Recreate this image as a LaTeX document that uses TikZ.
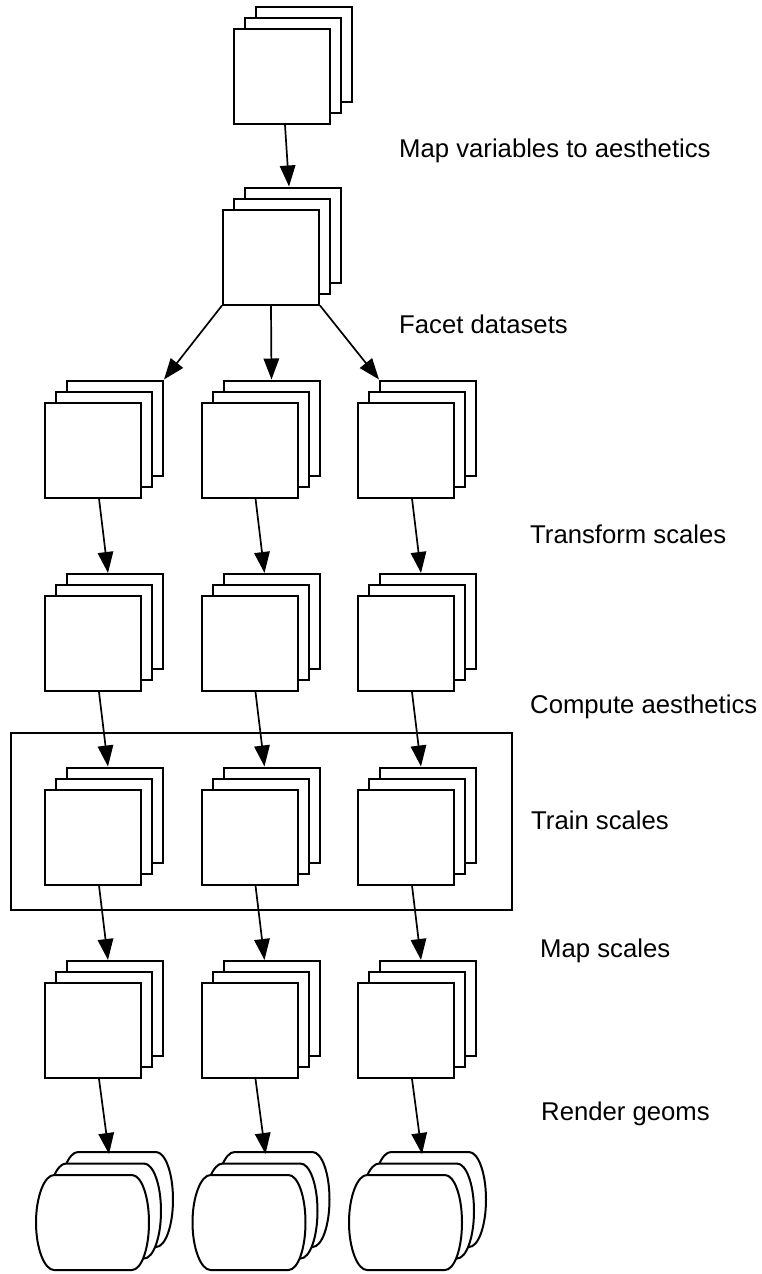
\documentclass[tikz,border=0pt]{standalone}
\usepackage{fontspec}
\setmainfont{Liberation Sans}
\usetikzlibrary{arrows.meta}
\tikzset{
  sq/.style={draw, fill=white, line width=2pt, minimum width=96pt, minimum height=95pt, inner sep=0pt},
  tapeline/.style={draw, fill=white, line width=2pt},
  arr/.style={line width=1.7pt, -{Triangle[length=21pt,width=15.5pt]}},
  frm/.style={draw, line width=1.7pt, minimum width=501pt, minimum height=177pt, inner sep=0pt},
  lbl/.style={inner sep=0pt, anchor=base west, font=\fontsize{25.7pt}{30pt}\selectfont},
  tape/.pic={
    \path[tapeline] (-39,-47.5) -- (39,-47.5)
      .. controls (48.4,-47.5) and (56,-26.23) .. (56,0)
      .. controls (56,26.23) and (48.4,47.5) .. (39,47.5)
      -- (-39,47.5)
      .. controls (-48.4,47.5) and (-57,26.23) .. (-57,0)
      .. controls (-57,-26.23) and (-48.4,-47.5) .. cycle;
    \coordinate (-top) at (0,-47.5);
  }
}
\begin{document}
\begin{tikzpicture}[x=1pt, y=-1pt]
\useasboundingbox (0,0) rectangle (762,1274);

% frame around "train scales" row
\node[frm] (frame) at (261.5,821.5) {};

% top stack
\node[sq] (s0b) at (304,54.5) {};
\node[sq] (s0m) at (293,65.5) {};
\node[sq] (s0) at (282,76.5) {};
% second stack
\node[sq] (s1b) at (293,235) {};
\node[sq] (s1m) at (282,246) {};
\node[sq] (s1) at (271,257) {};

% grid of stacks
\foreach \r/\y in {1/450,2/643.5,3/837,4/1030.5}{
  \foreach \c/\x in {1/93,2/249.5,3/406}{
    \node[sq] (r\r-\c-b) at (\x+22,\y-22) {};
    \node[sq] (r\r-\c-m) at (\x+11,\y-11) {};
    \node[sq] (r\r-\c) at (\x,\y) {};
  }
}

% rendered geoms (tapes)
\foreach \c/\x in {1/93,2/249.5,3/406}{
  \pic (r5-\c-b) at (\x+24,1199.5) {tape};
  \pic (r5-\c-m) at (\x+12,1211) {tape};
  \pic (r5-\c) at (\x,1222.5) {tape};
}

% connectors
\draw[arr] ([xshift=3pt]s0.south) -- ([xshift=-4pt]s1b.north);
\draw[arr] (s1.south west) -- (r1-1-b.north east);
\draw[arr] (s1.south) -- (r1-2-b.north);
\draw[arr] (s1.south east) -- (r1-3-b.north west);
\foreach \r/\n in {1/2,2/3,3/4}{
  \foreach \c in {1,2,3}{
    \draw[arr] ([xshift=6pt]r\r-\c.south) -- ([xshift=-7pt]r\n-\c-b.north);
  }
}
\foreach \c in {1,2,3}{
  \draw[arr] ([xshift=6pt]r4-\c.south) -- ([xshift=-8pt,yshift=-2pt]r5-\c-b-top);
}

% labels
\node[lbl] (t1) at (399,157) {Map variables to aesthetics};
\node[lbl] (t2) at (399,333) {Facet datasets};
\node[lbl] (t3) at (530,543) {Transform scales};
\node[lbl] (t4) at (530,713) {Compute aesthetics};
\node[lbl] (t5) at (531,829) {Train scales};
\node[lbl] (t6) at (540,957) {Map scales};
\node[lbl] (t7) at (541,1120) {Render geoms};
\end{tikzpicture}
\end{document}
